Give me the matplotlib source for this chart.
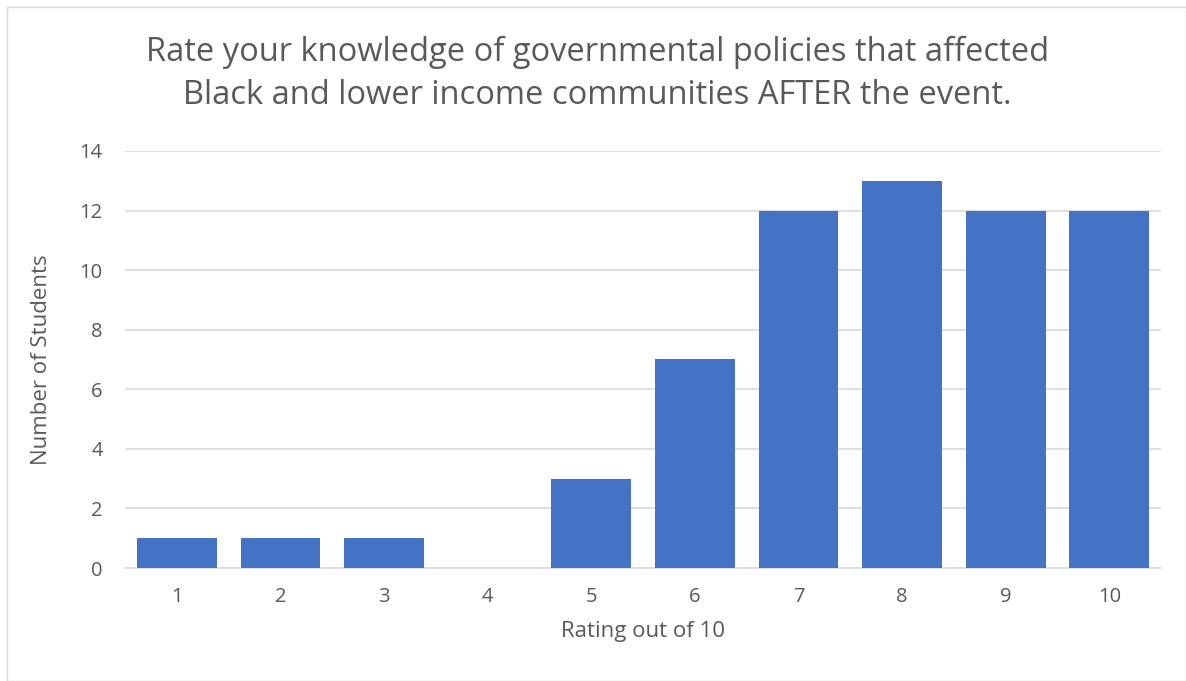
import matplotlib.pyplot as plt
from matplotlib.patches import Rectangle

# data
ratings = ['1', '2', '3', '4', '5', '6', '7', '8', '9', '10']
students = [1, 1, 1, 0, 3, 7, 12, 13, 12, 12]

plt.rcParams['font.family'] = ['Open Sans', 'DejaVu Sans']

fig = plt.figure(figsize=(11.86, 6.81), dpi=100)
ax = fig.add_axes([0.1054, 0.1659, 0.8736, 0.6124])

x = list(range(1, len(ratings) + 1))
ax.bar(x, students, width=0.77, color='#4472C4', zorder=3)

ax.set_xlim(0.5, 10.5)
ax.set_ylim(0, 14)
ax.set_yticks(range(0, 15, 2))
ax.set_xticks(x)
ax.set_xticklabels(ratings)
ax.grid(axis='y', color='#D9D9D9', linewidth=1.2, zorder=0)
for s in ['top', 'right', 'left']:
    ax.spines[s].set_visible(False)
ax.spines['bottom'].set_color('#D9D9D9')
ax.spines['bottom'].set_linewidth(1.2)
ax.tick_params(length=0, labelsize=14.5, labelcolor='#595959')
ax.tick_params(axis='y', pad=16)
ax.tick_params(axis='x', pad=14)

ax.set_xlabel('Rating out of 10', fontsize=16, color='#595959', labelpad=10)
ax.set_ylabel('Number of Students', fontsize=16, color='#595959', labelpad=20)

fig.text(0.504, 0.892, 'Rate your knowledge of governmental policies that affected\n'
         'Black and lower income communities AFTER the event.',
         ha='center', va='center', fontsize=23.5, color='#595959', linespacing=1.4)

# light frame around the chart
fig.patches.append(Rectangle((0.006, 0.0), 0.994, 0.99, transform=fig.transFigure,
                             fill=False, edgecolor='#D9D9D9', linewidth=1))

fig.savefig('out.png', dpi=100)
